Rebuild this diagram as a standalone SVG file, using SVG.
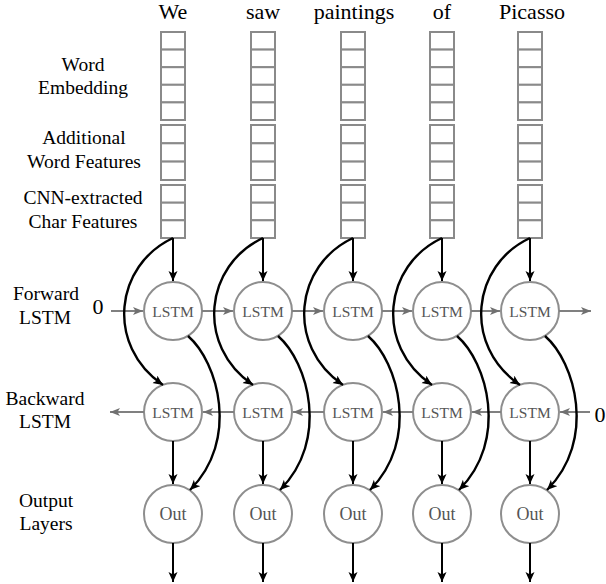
<svg xmlns="http://www.w3.org/2000/svg" width="606" height="584" viewBox="0 0 606 584">
<style>
.bg{fill:#fff}
.cell{fill:#fff;stroke:#8a8a8a;stroke-width:2}
.node{fill:#fff;stroke:#8e8e8e;stroke-width:2}
.gline{stroke:#808080;stroke-width:2;fill:none;marker-end:url(#ga)}
.bline{stroke:#000;stroke-width:2;fill:none;marker-end:url(#ba)}
.bcurve{stroke:#000;stroke-width:2.4;fill:none;marker-end:url(#ba)}
</style>
<defs>
<marker id="ba" markerUnits="userSpaceOnUse" markerWidth="12" markerHeight="10" refX="10" refY="4.5" orient="auto">
<path d="M0,0 L10,4.5 L0,9 L2.5,4.5 Z" fill="#000"/>
</marker>
<marker id="ga" markerUnits="userSpaceOnUse" markerWidth="12" markerHeight="10" refX="10" refY="4" orient="auto">
<path d="M0,0 L10,4 L0,8 L2.5,4 Z" fill="#707070"/>
</marker>
<g id="col">
<rect class="cell" x="-12" y="32" width="24" height="17.6"/>
<rect class="cell" x="-12" y="49.6" width="24" height="17.6"/>
<rect class="cell" x="-12" y="67.2" width="24" height="17.6"/>
<rect class="cell" x="-12" y="84.8" width="24" height="17.6"/>
<rect class="cell" x="-12" y="102.4" width="24" height="17.6"/>
<rect class="cell" x="-12" y="125" width="24" height="18.3"/>
<rect class="cell" x="-12" y="143.3" width="24" height="18.3"/>
<rect class="cell" x="-12" y="161.6" width="24" height="18.4"/>
<rect class="cell" x="-12" y="185" width="24" height="17.7"/>
<rect class="cell" x="-12" y="202.7" width="24" height="17.6"/>
<rect class="cell" x="-12" y="220.3" width="24" height="17.7"/>
</g>
</defs>
<rect class="bg" x="0" y="0" width="606" height="584"/>

<g id="labels" fill="#000" text-anchor="middle">
<text x="173" y="19" font-family="Liberation Serif" font-size="22">We</text>
<text x="263" y="19" font-family="Liberation Serif" font-size="22">saw</text>
<text x="354" y="19" font-family="Liberation Serif" font-size="22">paintings</text>
<text x="442" y="19" font-family="Liberation Serif" font-size="22">of</text>
<text x="532" y="19" font-family="Liberation Serif" font-size="22">Picasso</text>
<text x="98" y="314" font-family="Liberation Serif" font-size="22">0</text>
<text x="600" y="422" font-family="Liberation Serif" font-size="22">0</text>
<text x="83" y="71" font-family="Liberation Serif" font-size="19.5">Word</text>
<text x="83" y="94" font-family="Liberation Serif" font-size="19.5">Embedding</text>
<text x="84" y="144" font-family="Liberation Serif" font-size="19.5">Additional</text>
<text x="84" y="168" font-family="Liberation Serif" font-size="19.5">Word Features</text>
<text x="83" y="204" font-family="Liberation Serif" font-size="19.5">CNN-extracted</text>
<text x="83" y="228" font-family="Liberation Serif" font-size="19.5">Char Features</text>
<text x="46" y="300" font-family="Liberation Serif" font-size="19.5">Forward</text>
<text x="45" y="324" font-family="Liberation Serif" font-size="19.5">LSTM</text>
<text x="45" y="405" font-family="Liberation Serif" font-size="19.5">Backward</text>
<text x="45" y="428" font-family="Liberation Serif" font-size="19.5">LSTM</text>
<text x="46" y="507" font-family="Liberation Serif" font-size="19.5">Output</text>
<text x="46" y="530" font-family="Liberation Serif" font-size="19.5">Layers</text>
</g>

<g id="features">
<use href="#col" x="173"/>
<use href="#col" x="263"/>
<use href="#col" x="353"/>
<use href="#col" x="442"/>
<use href="#col" x="530"/>
</g>

<g id="fwd-lstm" fill="#555" text-anchor="middle">
<g id="f1"><circle class="node" cx="173" cy="311" r="29"/><text x="173" y="316.5" font-family="Liberation Serif" font-size="15.5">LSTM</text></g>
<g id="f2"><circle class="node" cx="263" cy="311" r="29"/><text x="263" y="316.5" font-family="Liberation Serif" font-size="15.5">LSTM</text></g>
<g id="f3"><circle class="node" cx="353" cy="311" r="29"/><text x="353" y="316.5" font-family="Liberation Serif" font-size="15.5">LSTM</text></g>
<g id="f4"><circle class="node" cx="442" cy="311" r="29"/><text x="442" y="316.5" font-family="Liberation Serif" font-size="15.5">LSTM</text></g>
<g id="f5"><circle class="node" cx="530" cy="311" r="29"/><text x="530" y="316.5" font-family="Liberation Serif" font-size="15.5">LSTM</text></g>
</g>
<g id="bwd-lstm" fill="#555" text-anchor="middle">
<g id="b1"><circle class="node" cx="173" cy="412" r="29"/><text x="173" y="417.5" font-family="Liberation Serif" font-size="15.5">LSTM</text></g>
<g id="b2"><circle class="node" cx="263" cy="412" r="29"/><text x="263" y="417.5" font-family="Liberation Serif" font-size="15.5">LSTM</text></g>
<g id="b3"><circle class="node" cx="353" cy="412" r="29"/><text x="353" y="417.5" font-family="Liberation Serif" font-size="15.5">LSTM</text></g>
<g id="b4"><circle class="node" cx="442" cy="412" r="29"/><text x="442" y="417.5" font-family="Liberation Serif" font-size="15.5">LSTM</text></g>
<g id="b5"><circle class="node" cx="530" cy="412" r="29"/><text x="530" y="417.5" font-family="Liberation Serif" font-size="15.5">LSTM</text></g>
</g>
<g id="outputs" fill="#555" text-anchor="middle">
<g id="o1"><circle class="node" cx="173" cy="514" r="29"/><text x="173" y="520" font-family="Liberation Serif" font-size="18">Out</text></g>
<g id="o2"><circle class="node" cx="263" cy="514" r="29"/><text x="263" y="520" font-family="Liberation Serif" font-size="18">Out</text></g>
<g id="o3"><circle class="node" cx="353" cy="514" r="29"/><text x="353" y="520" font-family="Liberation Serif" font-size="18">Out</text></g>
<g id="o4"><circle class="node" cx="442" cy="514" r="29"/><text x="442" y="520" font-family="Liberation Serif" font-size="18">Out</text></g>
<g id="o5"><circle class="node" cx="530" cy="514" r="29"/><text x="530" y="520" font-family="Liberation Serif" font-size="18">Out</text></g>
</g>

<g id="connectors">
<line class="gline" x1="111" y1="311" x2="143" y2="311"/>
<line class="gline" x1="202" y1="311" x2="233" y2="311"/>
<line class="gline" x1="292" y1="311" x2="323" y2="311"/>
<line class="gline" x1="382" y1="311" x2="412" y2="311"/>
<line class="gline" x1="471" y1="311" x2="500" y2="311"/>
<line class="gline" x1="559" y1="311" x2="591" y2="311"/>
<line class="gline" x1="590" y1="412" x2="560" y2="412"/>
<line class="gline" x1="501" y1="412" x2="472" y2="412"/>
<line class="gline" x1="413" y1="412" x2="383" y2="412"/>
<line class="gline" x1="324" y1="412" x2="293" y2="412"/>
<line class="gline" x1="234" y1="412" x2="203" y2="412"/>
<line class="gline" x1="144" y1="412" x2="110" y2="412"/>
<line class="bline" x1="173" y1="238" x2="173" y2="281"/>
<line class="bline" x1="263" y1="238" x2="263" y2="281"/>
<line class="bline" x1="353" y1="238" x2="353" y2="281"/>
<line class="bline" x1="442" y1="238" x2="442" y2="281"/>
<line class="bline" x1="530" y1="238" x2="530" y2="281"/>
<path class="bcurve" d="M173,238 C115,265 105,345 163,385"/>
<path class="bcurve" d="M263,238 C205,265 195,345 253,385"/>
<path class="bcurve" d="M353,238 C295,265 285,345 343,385"/>
<path class="bcurve" d="M442,238 C384,265 374,345 432,385"/>
<path class="bcurve" d="M530,238 C472,265 462,345 520,385"/>
<path class="bcurve" d="M188,336 C218,362 240,440 190,490"/>
<path class="bcurve" d="M278,336 C308,362 330,440 280,490"/>
<path class="bcurve" d="M368,336 C398,362 420,440 370,490"/>
<path class="bcurve" d="M457,336 C487,362 509,440 459,490"/>
<path class="bcurve" d="M545,336 C575,362 597,440 547,490"/>
<line class="bline" x1="173" y1="441" x2="173" y2="484"/>
<line class="bline" x1="263" y1="441" x2="263" y2="484"/>
<line class="bline" x1="353" y1="441" x2="353" y2="484"/>
<line class="bline" x1="442" y1="441" x2="442" y2="484"/>
<line class="bline" x1="530" y1="441" x2="530" y2="484"/>
<line class="bline" x1="173" y1="543" x2="173" y2="582"/>
<line class="bline" x1="263" y1="543" x2="263" y2="582"/>
<line class="bline" x1="353" y1="543" x2="353" y2="582"/>
<line class="bline" x1="442" y1="543" x2="442" y2="582"/>
<line class="bline" x1="530" y1="543" x2="530" y2="582"/>
</g>
</svg>
